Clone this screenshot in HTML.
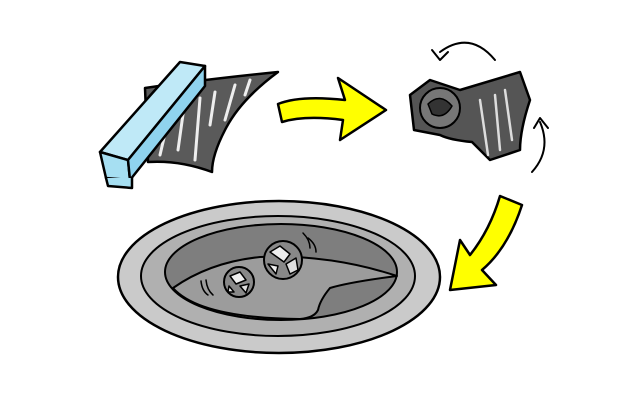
<!DOCTYPE html>
<html><head><meta charset="utf-8"><style>html,body{margin:0;padding:0;background:#fff}svg{display:block}</style></head>
<body>
<svg width="640" height="404" viewBox="0 0 640 404" xmlns="http://www.w3.org/2000/svg" stroke-linejoin="round" stroke-linecap="round">
<!-- foil sheet -->
<path d="M145,88 Q200,80 278,72 Q240,100 225,130 Q212,155 212,172 Q180,160 148,162 Z" fill="#5a5a5a" stroke="#000" stroke-width="2.5"/>
<g stroke="#eee" stroke-width="3">
<line x1="170" y1="112" x2="160" y2="155"/><line x1="185" y1="100" x2="178" y2="150"/>
<line x1="200" y1="98" x2="195" y2="160"/><line x1="215" y1="92" x2="210" y2="125"/>
<line x1="235" y1="85" x2="225" y2="120"/><line x1="250" y1="80" x2="245" y2="95"/>
</g>
<!-- box -->
<path d="M100,152 L180,62 L205,66 L128,160 Z" fill="#bfe9f7" stroke="#000" stroke-width="2.5"/>
<path d="M100,152 L128,160 L130,180 L106,178 Z" fill="#a6dff2" stroke="#000" stroke-width="2.5"/>
<path d="M128,160 L205,66 L205,86 L130,180 Z" fill="#8fd3ee" stroke="#000" stroke-width="2.5"/>
<path d="M106,178 L108,186 L132,188 L132,178" fill="#a6dff2" stroke="#000" stroke-width="2.5"/>
<!-- yellow arrow 1 -->
<path d="M278,104 Q300,95 345,100 L338,78 L386,110 L340,140 L343,120 Q305,115 282,122 Z" fill="#ffff00" stroke="#000" stroke-width="2.5"/>
<!-- crumpled foil -->
<path d="M460,90 L520,72 L530,100 Q520,130 520,150 L490,160 L472,142 Q450,140 440,135 L414,130 L410,95 L430,80 Z" fill="#555" stroke="#000" stroke-width="2.5"/>
<g stroke="#ddd" stroke-width="2.5"><line x1="495" y1="95" x2="500" y2="150"/><line x1="505" y1="90" x2="512" y2="140"/><line x1="480" y1="100" x2="488" y2="155"/></g>
<circle cx="440" cy="108" r="20" fill="#777" stroke="#000" stroke-width="2"/>
<path d="M428,104 Q440,92 452,106 Q444,120 432,114 Z" fill="#333" stroke="#000" stroke-width="1.5"/>
<!-- rotation arrows -->
<path d="M495,60 Q470,30 440,52" fill="none" stroke="#000" stroke-width="2"/>
<path d="M432,50 L440,60 L448,52" fill="none" stroke="#000" stroke-width="2"/>
<path d="M532,172 Q552,150 540,122" fill="none" stroke="#000" stroke-width="2"/>
<path d="M534,128 L540,118 L548,128" fill="none" stroke="#000" stroke-width="2"/>
<!-- yellow arrow 2 -->
<path d="M500,196 L522,205 Q508,248 482,270 L496,285 L450,290 L460,240 L470,255 Q490,230 500,196 Z" fill="#ffff00" stroke="#000" stroke-width="2.5"/>
<!-- sink -->
<ellipse cx="279" cy="277" rx="161" ry="76" fill="#cacaca" stroke="#000" stroke-width="2.5"/>
<ellipse cx="278" cy="276" rx="137" ry="60" fill="#b0b0b0" stroke="#000" stroke-width="2"/>
<ellipse cx="281" cy="272" rx="116" ry="48" fill="#7e7e7e" stroke="#000" stroke-width="2"/>
<path d="M173,288 Q210,262 260,257 Q330,254 397,276 Q350,282 330,288 Q320,300 318,310 Q314,318 300,319 Q200,318 173,288 Z" fill="#9c9c9c" stroke="#000" stroke-width="2"/>
<!-- foil balls -->
<g stroke="#000" stroke-width="1.5">
<circle cx="283" cy="260" r="19" fill="#888" stroke-width="2"/>
<path d="M270,252 L280,246 L290,254 L284,262 Z" fill="#eee"/>
<path d="M286,264 L296,258 L298,270 L290,274 Z" fill="#ddd"/>
<path d="M268,264 L278,266 L276,274 Z" fill="#eee"/>
<circle cx="239" cy="282" r="15" fill="#888" stroke-width="2"/>
<path d="M230,276 L240,272 L246,280 L236,284 Z" fill="#eee"/>
<path d="M240,286 L249,284 L246,293 Z" fill="#ddd"/>
<path d="M229,286 L234,292 L228,292 Z" fill="#eee"/>
</g>
<g fill="none" stroke="#000" stroke-width="1.5"><path d="M303,233 Q310,240 310,248"/><path d="M308,238 Q316,244 316,252"/><path d="M201,281 Q202,291 208,295"/><path d="M206,280 Q207,290 213,295"/></g>
</svg>
</body></html>
